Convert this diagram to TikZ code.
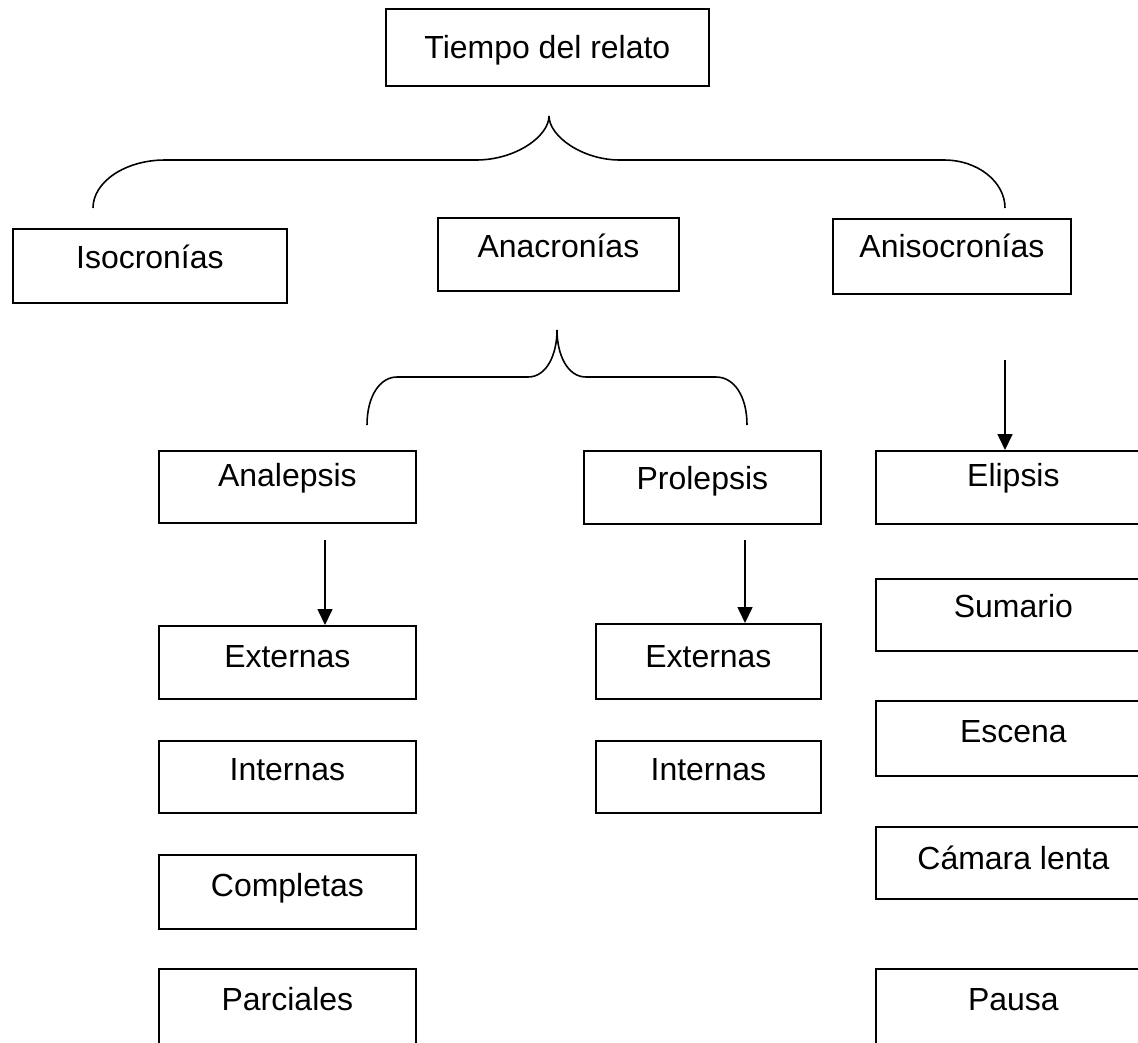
\documentclass[tikz,border=0pt]{standalone}
\usepackage{fontspec}
\setmainfont{Liberation Sans}
\usetikzlibrary{arrows.meta}
\newcommand{\mybox}[7]{%
  \pgfmathsetmacro\bxw{(#4-#2)*0.02}%
  \pgfmathsetmacro\bxh{(#6-#3)*0.02}%
  \pgfmathsetmacro\bxd{(#5-#6)*0.02}%
  \node[box, minimum width=\bxw cm, text height=\bxh cm, text depth=\bxd cm] (#1) at (#2,#3) {#7};%
}
\begin{document}
\begin{tikzpicture}[x=0.02cm,y=-0.02cm,
  box/.style={draw, line width=1pt, inner sep=0pt, anchor=north west,
    font=\fontsize{18.2}{22}\selectfont},
  brace/.style={line width=0.9pt},
  arr/.style={line width=0.9pt, -{Triangle[width=0.3cm,length=0.32cm]}}]
\path[use as bounding box, clip] (0,0) rectangle (1138,1042);
\fill[white] (0,0) rectangle (1138,1042);
\mybox{tiempo}{385}{8}{708}{85}{58}{Tiempo del relato}
\mybox{iso}{12}{228}{286}{302}{268}{Isocronías}
\mybox{ana}{437}{217}{678}{290}{257}{Anacronías}
\mybox{aniso}{832}{218}{1070}{293}{257}{Anisocronías}
\mybox{analepsis}{158}{450}{415}{522}{486}{Analepsis}
\mybox{prolepsis}{583}{450}{820}{523}{489}{Prolepsis}
\mybox{elipsis}{875}{450}{1150}{523}{486}{Elipsis}
\mybox{extA}{158}{625}{415}{698}{667}{Externas}
\mybox{intA}{158}{740}{415}{812}{780}{Internas}
\mybox{comp}{158}{854}{415}{928}{896}{Completas}
\mybox{parc}{158}{968}{415}{1060}{1010}{Parciales}
\mybox{extB}{595}{623}{820}{698}{667}{Externas}
\mybox{intB}{595}{740}{820}{812}{780}{Internas}
\mybox{sum}{875}{578}{1150}{650}{617}{Sumario}
\mybox{esc}{875}{700}{1150}{775}{742}{Escena}
\mybox{cam}{875}{826}{1150}{898}{869}{Cámara lenta}
\mybox{pausa}{875}{968}{1150}{1060}{1010}{Pausa}
% braces
\coordinate (b1l) at (93,208);
\coordinate (b1t) at (549,116);
\coordinate (b1r) at (1005,208);
\draw[brace] (b1l) .. controls (93,182) and (125,160) .. (165,160) -- (476,160)
  .. controls (516,160) and (549,136) .. (b1t)
  .. controls (549,136) and (582,160) .. (620,160) -- (944,160)
  .. controls (978,160) and (1005,182) .. (b1r);
\coordinate (b2l) at (367,425);
\coordinate (b2t) at (557,330);
\coordinate (b2r) at (747,425);
\draw[brace] (b2l) .. controls (367,396) and (380,377) .. (397,377) -- (528,377)
  .. controls (547,377) and (557,354) .. (b2t)
  .. controls (557,354) and (567,377) .. (586,377) -- (716,377)
  .. controls (734,377) and (747,396) .. (b2r);
% arrows
\coordinate (a1) at (1005,360);
\coordinate (a2) at (325,540);
\coordinate (a3) at (745,540);
\draw[arr] (a1) -- (a1 |- elipsis.north);
\draw[arr] (a2) -- (a2 |- extA.north);
\draw[arr] (a3) -- (a3 |- extB.north);
\end{tikzpicture}
\end{document}
